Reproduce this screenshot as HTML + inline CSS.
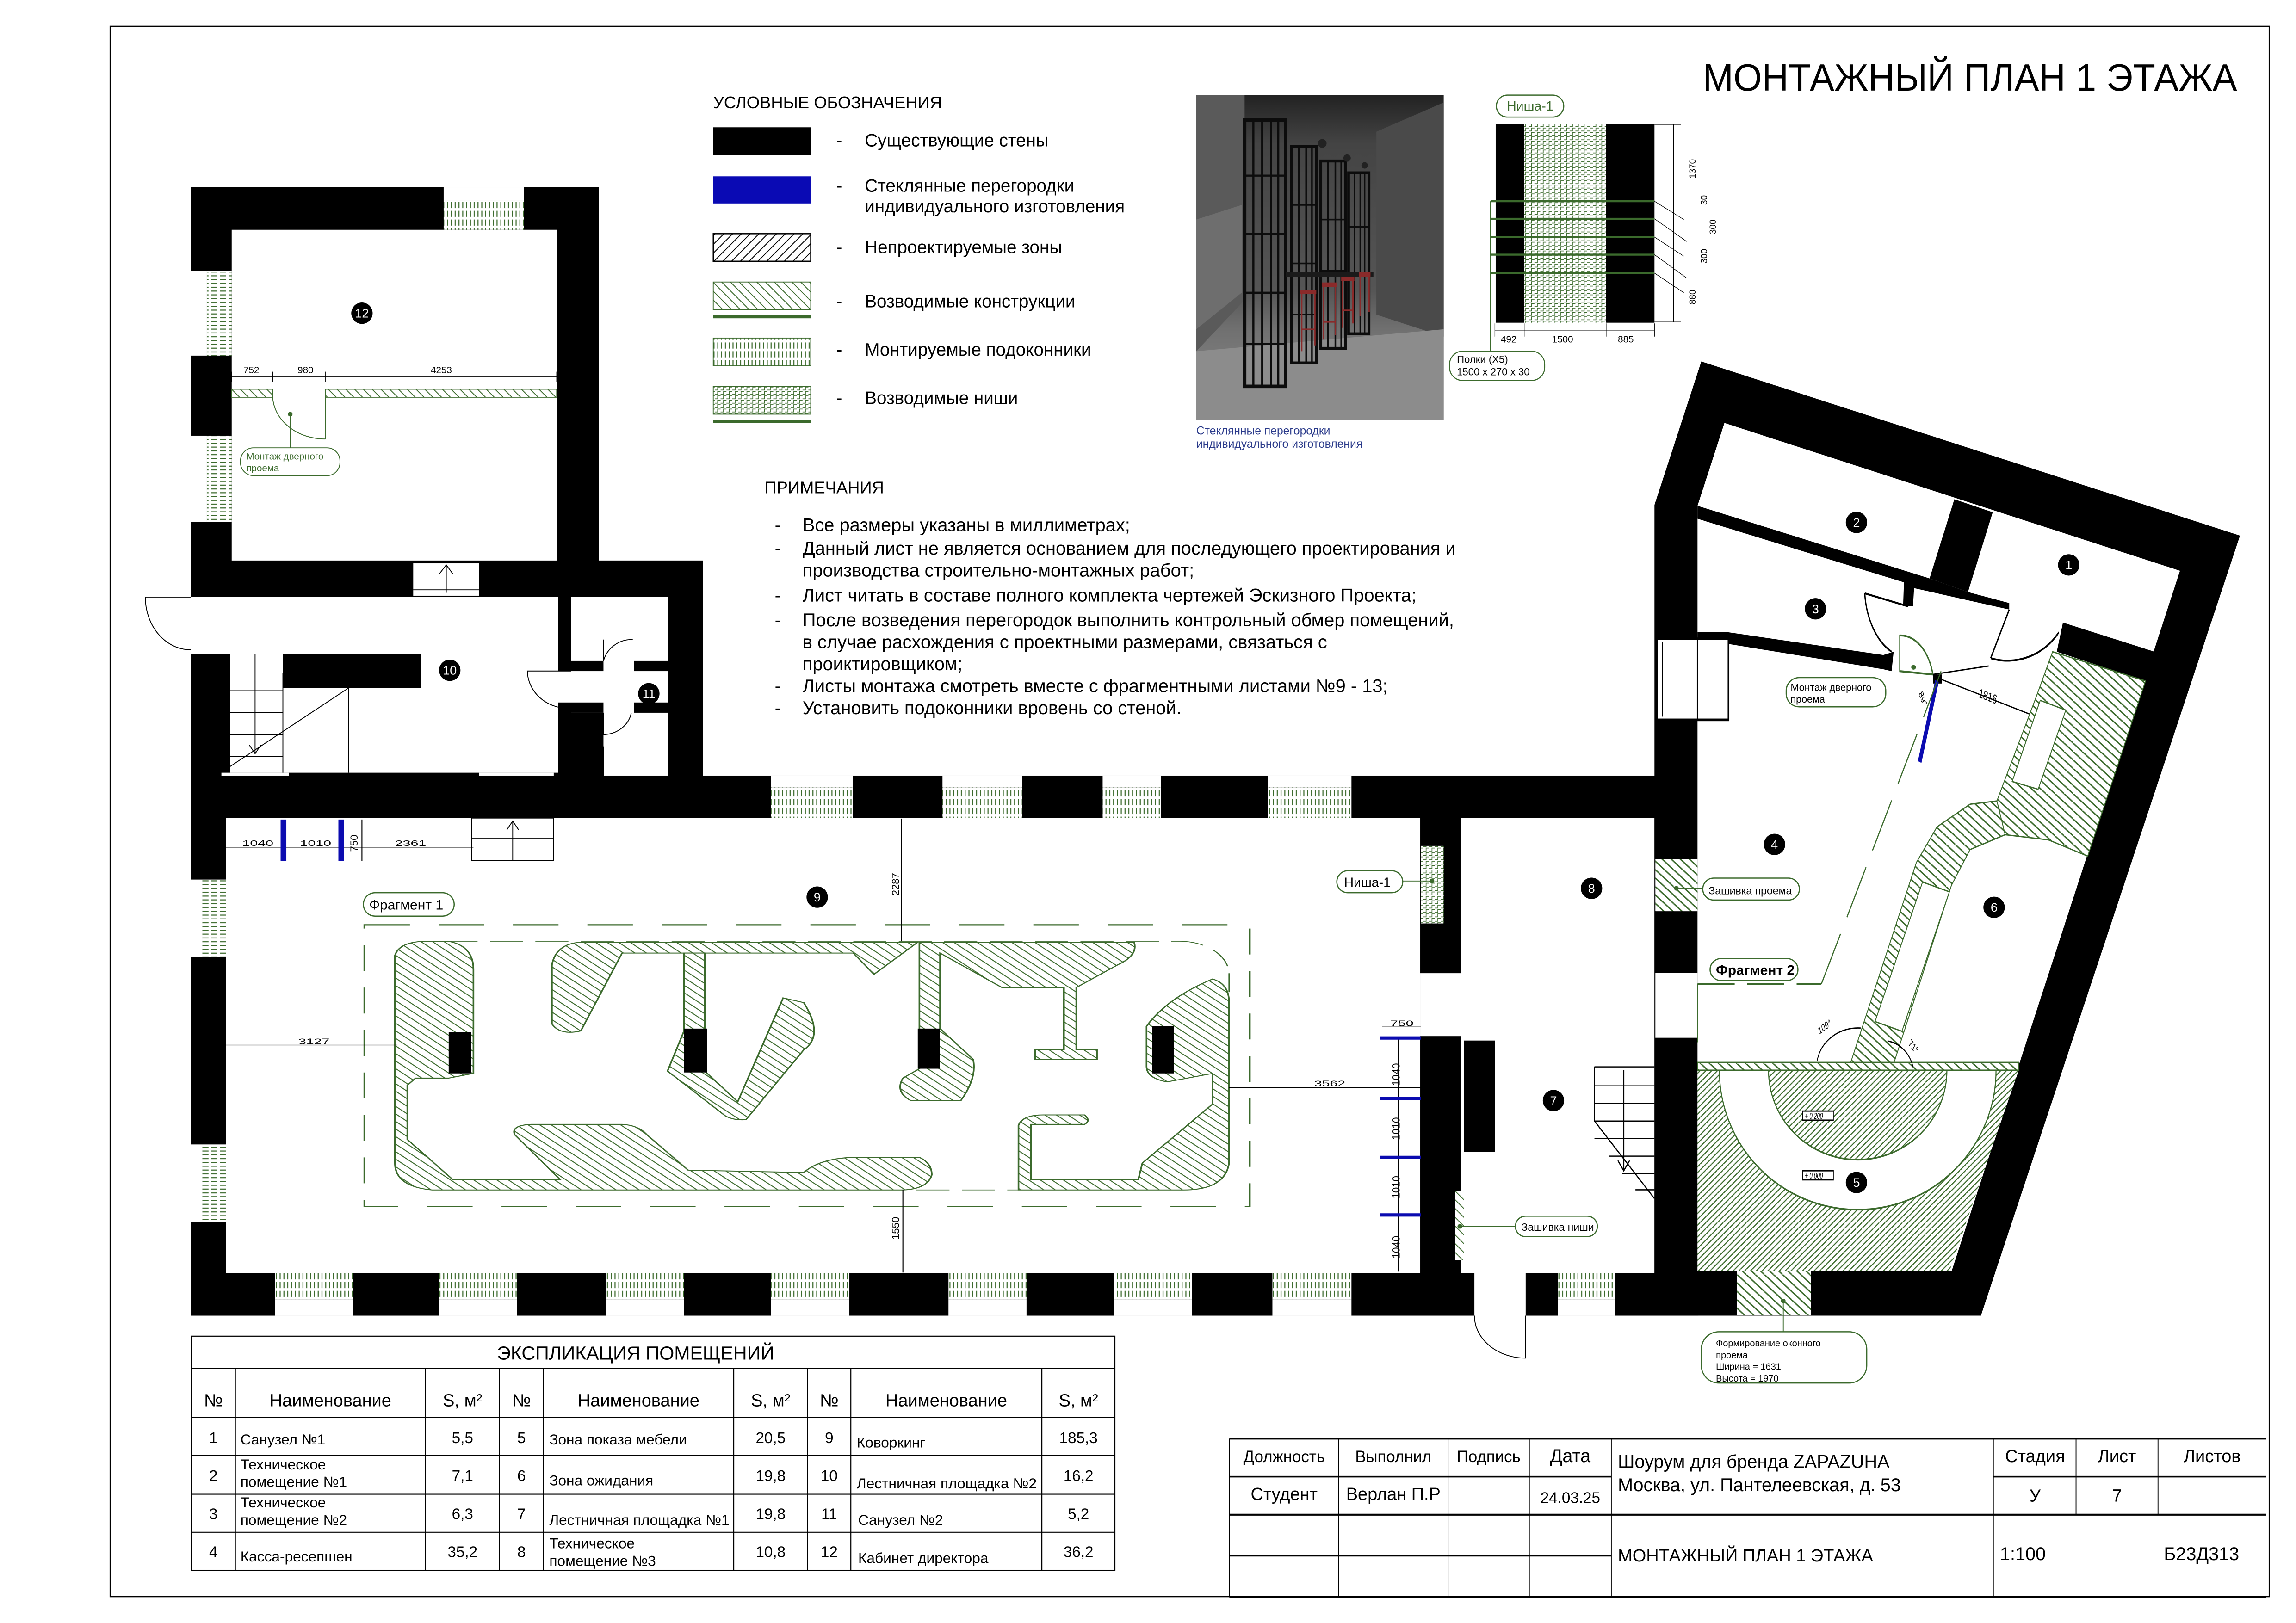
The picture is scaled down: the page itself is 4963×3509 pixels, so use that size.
<!DOCTYPE html>
<html><head><meta charset="utf-8"><style>
html,body{margin:0;padding:0;background:#fff}
svg{display:block}
text{font-family:"Liberation Sans",sans-serif;fill:#000}
.g{fill:#3b6a2c}
</style></head><body>
<svg width="4963" height="3509" viewBox="0 0 1568 1109" xmlns="http://www.w3.org/2000/svg">
<defs>
<pattern id="hg" patternUnits="userSpaceOnUse" width="6" height="6"><rect width="6" height="6" fill="#fff"/><path d="M0,0 L6,6 M-3,3 L0,6 M3,-3 L9,3" stroke="#3b6a2c" stroke-width="0.6"/></pattern>
<pattern id="hz1" patternUnits="userSpaceOnUse" width="14" height="16"><rect width="14" height="16" fill="#fff"/><path d="M0,0 L14,16 M-7,8 L0,16 M7,-8 L21,8" stroke="#3b6a2c" stroke-width="1.6"/></pattern>
<pattern id="hz2" patternUnits="userSpaceOnUse" width="22" height="13"><rect width="22" height="13" fill="#fff"/><path d="M0,0 L22,13 M-11,6.5 L0,13 M11,-6.5 L33,6.5" stroke="#3b6a2c" stroke-width="2.5"/></pattern>
<pattern id="hz5" patternUnits="userSpaceOnUse" width="14" height="9"><rect width="14" height="9" fill="#fff"/><path d="M0,9 L14,0 M-7,4.5 L0,0 M7,13.5 L21,4.5" stroke="#3b6a2c" stroke-width="2"/></pattern>
<pattern id="hb" patternUnits="userSpaceOnUse" width="6" height="6"><rect width="6" height="6" fill="#fff"/><path d="M0,6 L6,0 M-3,3 L3,-3 M3,9 L9,3" stroke="#000" stroke-width="0.6"/></pattern>
<pattern id="sill" patternUnits="userSpaceOnUse" width="2.6" height="6"><rect width="2.6" height="6" fill="#fff"/><path d="M1.3,0 V4.2" stroke="#3b6a2c" stroke-width="0.7"/></pattern>
<pattern id="sillv" patternUnits="userSpaceOnUse" width="6" height="2.6"><rect width="6" height="2.6" fill="#fff"/><path d="M0,1.3 H4.2" stroke="#3b6a2c" stroke-width="0.7"/></pattern>
<pattern id="niche" patternUnits="userSpaceOnUse" width="4" height="3"><rect width="4" height="3" fill="#fff"/><path d="M0,2.5 H2 V0.5 H4" fill="none" stroke="#3b6a2c" stroke-width="0.5"/></pattern>
<linearGradient id="ph" x1="0" y1="0" x2="0" y2="1"><stop offset="0" stop-color="#222"/><stop offset="0.15" stop-color="#444"/><stop offset="0.6" stop-color="#555"/><stop offset="0.72" stop-color="#707070"/><stop offset="1" stop-color="#8e8e8e"/></linearGradient>
</defs>
<rect width="1568" height="1109" fill="#fff"/>
<rect x="75" y="18" width="1475" height="1073" fill="none" stroke="#000" stroke-width="0.8"/>

<text x="1163" y="62" font-size="26" textLength="365" lengthAdjust="spacingAndGlyphs">МОНТАЖНЫЙ ПЛАН 1 ЭТАЖА</text>

<!-- legend -->
<text x="487" y="74" font-size="11.5">УСЛОВНЫЕ ОБОЗНАЧЕНИЯ</text>
<rect x="487" y="87" width="66.6" height="19" fill="#000"/>
<rect x="487" y="120.5" width="66.6" height="18.5" fill="#0a0ab4"/>
<rect x="487" y="159.7" width="66.6" height="18.8" fill="url(#hb)" stroke="#000" stroke-width="0.8"/>
<rect x="487" y="192.7" width="66.6" height="19" fill="url(#hg)" stroke="#3b6a2c" stroke-width="0.6"/>
<rect x="487" y="215.5" width="66.6" height="2" class="g"/>
<rect x="487" y="231" width="66.6" height="19" fill="url(#sill)" stroke="#3b6a2c" stroke-width="0.6"/>
<rect x="487" y="264" width="66.6" height="19" fill="url(#niche)" stroke="#3b6a2c" stroke-width="0.6"/>
<rect x="487" y="287" width="66.6" height="2" class="g"/>
<g font-size="12.2">
<text x="571" y="100">-</text><text x="590.5" y="100">Существующие стены</text>
<text x="571" y="131">-</text><text x="590.5" y="131">Стеклянные перегородки</text><text x="590.5" y="145">индивидуального изготовления</text>
<text x="571" y="173">-</text><text x="590.5" y="173">Непроектируемые зоны</text>
<text x="571" y="210">-</text><text x="590.5" y="210">Возводимые конструкции</text>
<text x="571" y="243">-</text><text x="590.5" y="243">Монтируемые подоконники</text>
<text x="571" y="276">-</text><text x="590.5" y="276">Возводимые ниши</text>
</g>

<!-- photo -->
<rect x="817" y="65" width="169" height="222" fill="url(#ph)"/>
<polygon points="817,65 850,65 850,205 817,240" fill="#5a5a5a"/>
<polygon points="817,150 848,140 848,200 817,225" fill="#6e6e6e"/>
<polygon points="940,90 986,70 986,230 940,215" fill="#4a4a4a"/>
<polygon points="817,240 986,225 986,287 817,287" fill="#8c8c8c"/>
<g fill="none" stroke="#0c0c0c">
<rect x="850" y="82" width="28" height="182" stroke-width="2.4"/>
<path d="M856,82V264M862,82V264M868,82V264M873,82V264M850,120H878M850,160H878M850,200H878M850,235H878" stroke-width="1.4"/>
<rect x="882" y="100" width="17" height="148" stroke-width="2"/>
<path d="M887,100V248M892,100V248M896,100V248M882,140H899M882,180H899M882,215H899" stroke-width="1.1"/>
<rect x="902" y="110" width="17" height="128" stroke-width="2"/>
<path d="M907,110V238M912,110V238M916,110V238M902,150H919M902,185H919" stroke-width="1.1"/>
<rect x="921" y="118" width="14" height="110" stroke-width="1.8"/>
<path d="M925,118V228M929,118V228M932,118V228M921,155H935" stroke-width="1"/>
</g>
<rect x="878" y="186" width="60" height="3" fill="#1a1a1a"/>
<g fill="#8a2a2a"><rect x="888" y="198" width="11" height="3"/><rect x="903" y="193" width="10" height="3"/><rect x="916" y="189" width="9" height="3"/><rect x="928" y="186" width="8" height="3"/></g>
<g stroke="#8a2a2a" stroke-width="1"><path d="M889,201V240M898,201V236M904,196V232M912,196V229M917,192V224M924,192V221M929,189V216M935,189V213M889,225H898M904,220H912M917,212H924"/></g>
<g fill="#222"><circle cx="903" cy="98" r="3"/><circle cx="920" cy="108" r="2.5"/><circle cx="932" cy="113" r="2.2"/></g>
<text x="817" y="297" font-size="7.8" style="fill:#2a3a8a">Стеклянные перегородки</text>
<text x="817" y="306" font-size="7.8" style="fill:#2a3a8a">индивидуального изготовления</text>

<!-- niche-1 drawing -->
<rect x="1022" y="65" width="46" height="15" rx="7.5" fill="none" stroke="#3b6a2c" stroke-width="0.8"/>
<text x="1045" y="75.5" font-size="9" text-anchor="middle" style="fill:#3b6a2c">Ниша-1</text>
<rect x="1021.5" y="85" width="19.5" height="135.5" fill="#000"/>
<rect x="1041" y="85" width="56" height="135.5" fill="url(#niche)"/>
<rect x="1097" y="85" width="33" height="135.5" fill="#000"/>
<g stroke="#3b6a2c" stroke-width="1.4"><path d="M1018,137.5H1130M1018,149.5H1130M1018,162H1130M1018,174H1130M1018,186.6H1130"/></g>
<path d="M1018,137.5V240" stroke="#3b6a2c" stroke-width="0.6"/>
<g stroke="#000" stroke-width="0.4" fill="none"><path d="M1130,85H1148M1130,220H1148M1143,85V220M1021,226H1130M1021,221V230M1041,221V230M1097,221V230M1130,221V230M1130,137.5L1150,150M1130,149.5L1152,165M1130,162L1150,175M1130,174L1152,190M1130,186.6L1150,200"/></g>
<g font-size="6.5"><text x="1025" y="234">492</text><text x="1060" y="234">1500</text><text x="1105" y="234">885</text></g>
<g font-size="6" transform="rotate(-90)"><text x="-122" y="1158">1370</text><text x="-208" y="1158">880</text><text x="-140" y="1166">30</text><text x="-180" y="1166">300</text><text x="-160" y="1172">300</text></g>
<rect x="990" y="240" width="65" height="20" rx="9" fill="none" stroke="#3b6a2c" stroke-width="0.7"/>
<text x="995" y="248" font-size="7">Полки (Х5)</text><text x="995" y="256.5" font-size="7">1500 х 270 х 30</text>

<!-- notes -->
<text x="522" y="337" font-size="11.5">ПРИМЕЧАНИЯ</text>
<g font-size="12.6">
<text x="529" y="363">-</text><text x="548" y="363">Все размеры указаны в миллиметрах;</text>
<text x="529" y="379">-</text><text x="548" y="379">Данный лист не является основанием для последующего проектирования и</text>
<text x="548" y="394">производства строительно-монтажных работ;</text>
<text x="529" y="411">-</text><text x="548" y="411">Лист читать в составе полного комплекта чертежей Эскизного Проекта;</text>
<text x="529" y="428">-</text><text x="548" y="428">После возведения перегородок выполнить контрольный обмер помещений,</text>
<text x="548" y="443">в случае расхождения с проектными размерами, связаться с</text>
<text x="548" y="458">проиктировщиком;</text>
<text x="529" y="473">-</text><text x="548" y="473">Листы монтажа смотреть вместе с фрагментными листами №9 - 13;</text>
<text x="529" y="488">-</text><text x="548" y="488">Установить подоконники вровень со стеной.</text>
</g>

<!-- ===== LEFT BUILDING WALLS ===== -->
<path d="M130,128H409V408H130Z M158,157H380V383H158Z" fill="#000" fill-rule="evenodd"/>
<rect x="380" y="383" width="100" height="25" fill="#000"/>
<rect x="281.8" y="384.7" width="45.6" height="22.6" fill="#fff" stroke="#000" stroke-width="0.5"/>
<path d="M282,403H327M304.6,386V405M300,392L304.6,386L309,392" stroke="#000" stroke-width="0.6" fill="none"/>
<rect x="302.8" y="128" width="55" height="9" fill="#fff"/><rect x="302.8" y="137" width="55" height="20" fill="url(#sill)"/>
<rect x="130" y="185" width="11" height="58" fill="#fff"/><rect x="141" y="185" width="17" height="58" fill="url(#sillv)"/>
<rect x="130" y="297.7" width="11" height="59" fill="#fff"/><rect x="141" y="297.7" width="17" height="59" fill="url(#sillv)"/>
<rect x="158" y="266" width="28" height="5.5" fill="url(#hg)" stroke="#3b6a2c" stroke-width="0.5"/>
<rect x="222" y="266" width="158" height="5.5" fill="url(#hg)" stroke="#3b6a2c" stroke-width="0.5"/>
<path d="M222,271V300M186,271A36,30 0 0 0 222,300" fill="none" stroke="#3b6a2c" stroke-width="0.6"/>
<path d="M158,257.5H380M158,254V261M186,254V261M222,254V261M380,254V261" stroke="#000" stroke-width="0.4"/>
<g font-size="6.5"><text x="166" y="255">752</text><text x="203" y="255">980</text><text x="294" y="255">4253</text></g>
<circle cx="198" cy="283" r="1.6" class="g"/><path d="M198,283V306" stroke="#3b6a2c" stroke-width="0.5"/>
<rect x="164" y="306" width="68" height="19" rx="9" fill="#fff" stroke="#3b6a2c" stroke-width="0.6"/>
<text x="168" y="314" font-size="6.5" style="fill:#3b6a2c">Монтаж дверного</text><text x="168" y="322" font-size="6.5" style="fill:#3b6a2c">проема</text>

<rect x="130" y="408" width="350" height="151" fill="#000"/>
<rect x="130" y="408" width="251" height="39" fill="#fff"/>
<rect x="157" y="447" width="36" height="81" fill="#fff"/>
<rect x="193" y="470" width="188" height="58" fill="#fff"/>
<rect x="287.6" y="447" width="93.4" height="23" fill="#fff"/>
<rect x="151" y="528" width="46" height="9" fill="#fff"/>
<rect x="327" y="528" width="51" height="31" fill="#fff"/>
<g stroke="#000" stroke-width="0.6" fill="none">
<path d="M157,472H193M157,487H193M157,502H193M157,517H193M174,447V515M170,509L174,515L178,509M238,470L152,527M193,460V528M238,470V528"/>
<path d="M130,408H99A31,36 0 0 0 130,444"/>
</g>
<rect x="390" y="408" width="66" height="135" fill="#fff"/>
<rect x="381" y="451.6" width="31" height="7" fill="#000"/><rect x="433" y="451.6" width="23" height="7" fill="#000"/>
<rect x="381" y="480" width="31" height="7" fill="#000"/><rect x="433" y="480" width="23" height="7" fill="#000"/>
<rect x="381" y="487" width="31" height="56" fill="#000"/>
<rect x="381" y="458.5" width="9" height="21.5" fill="#fff"/>
<g stroke="#000" stroke-width="0.6" fill="none"><path d="M412,437V451.6A20,20 0 0 1 432,437M412,487V502A20,18 0 0 0 431,487M390,458.5H360A28,26 0 0 0 388,484"/><path d="M412,510V543"/></g>

<rect x="130" y="530" width="1030" height="369" fill="#000"/>
<rect x="154" y="559" width="816" height="311" fill="#fff"/>
<rect x="322" y="559" width="56" height="29" fill="#fff" stroke="#000" stroke-width="0.6"/>
<path d="M322,573H378M350,561V588M346,567L350,561L354,567" stroke="#000" stroke-width="0.6" fill="none"/>
<rect x="998" y="559" width="132" height="311" fill="#fff"/>
<rect x="970" y="665" width="28" height="43" fill="#fff"/>
<rect x="1000" y="711" width="21" height="76" fill="#000"/>
<rect x="970.5" y="578" width="15.5" height="53" fill="url(#niche)"/>
<rect x="994" y="814" width="6" height="47" fill="url(#hg)"/>
<g fill="url(#sill)">
<rect x="526.5" y="538" width="56" height="21"/><rect x="643.6" y="538" width="54.4" height="21"/><rect x="753" y="538" width="40" height="21"/><rect x="866" y="538" width="57" height="21"/>
</g>
<g fill="#fff"><rect x="526.5" y="530" width="56" height="8"/><rect x="643.6" y="530" width="54.4" height="8"/><rect x="753" y="530" width="40" height="8"/><rect x="866" y="530" width="57" height="8"/></g>
<g fill="url(#sill)">
<rect x="187.7" y="870" width="53.3" height="18"/><rect x="299.5" y="870" width="53.5" height="18"/><rect x="413.6" y="870" width="53.4" height="18"/><rect x="526.5" y="870" width="53.5" height="18"/><rect x="647.7" y="870" width="53.3" height="18"/><rect x="760.6" y="870" width="53.4" height="18"/><rect x="869" y="870" width="54" height="18"/><rect x="1064" y="870" width="39" height="18"/><rect x="1244" y="871" width="59" height="18"/>
</g>
<g fill="#fff">
<rect x="187.7" y="888" width="53.3" height="11"/><rect x="299.5" y="888" width="53.5" height="11"/><rect x="413.6" y="888" width="53.4" height="11"/><rect x="526.5" y="888" width="53.5" height="11"/><rect x="647.7" y="888" width="53.3" height="11"/><rect x="760.6" y="888" width="53.4" height="11"/><rect x="869" y="888" width="54" height="11"/><rect x="1064" y="888" width="39" height="11"/><rect x="1244" y="889" width="59" height="10"/>
</g>
<rect x="130" y="601" width="8" height="53" fill="#fff"/><rect x="138" y="601" width="16" height="53" fill="url(#sillv)"/>
<rect x="130" y="782" width="8" height="53" fill="#fff"/><rect x="138" y="782" width="16" height="53" fill="url(#sillv)"/>
<rect x="1007" y="870" width="35" height="30" fill="#fff"/>
<path d="M1042,899V928A35,29 0 0 1 1007,899" fill="none" stroke="#000" stroke-width="0.6"/>
<g stroke="#000" stroke-width="0.8" fill="none"><path d="M1089,729H1130M1089,729V766L1130,819M1089,742H1130M1089,754H1130M1089,766H1130M1089,778H1130M1099,790H1130M1108,802H1130M1117,813H1130M1109,731V800M1105,793L1109,800L1113,793"/></g>

<!-- ===== RIGHT BUILDING ===== -->
<polygon points="1162,247 1530,366 1353,899 1130,899 1130,345" fill="#000"/>
<polygon points="1177.8,289 1489,390 1333,868.6 1159.4,868.6 1159.4,345.6" fill="#fff"/>
<g transform="matrix(0.28209 0 0 0.44332 1105.8 236.97)">
<polygon points="812,235 905,255 845,378 752,357" fill="#000"/>
<polygon points="190,245 752,357 845,378 945,395 945,405 715,372 700,365 190,265" fill="#000"/>
<polygon points="690,360 715,365 712,400 688,400" fill="#000"/>
<polygon points="1075,425 1297,470 1275,515 1060,470" fill="#000"/>
<polygon points="190,440 265,440 640,475 665,470 660,500 640,497 265,458 190,458" fill="#000"/>
<rect x="92" y="450" width="173" height="125" fill="#fff" stroke="#000" stroke-width="4"/>
<path d="M105,455V570M190,450V575" stroke="#000" stroke-width="3"/>
<rect x="88" y="790" width="102" height="80" fill="url(#hz2)"/>
<rect x="88" y="965" width="102" height="100" fill="#fff"/>
<g fill="none" stroke="#000" stroke-width="3">
<path d="M595,380L700,400M595,380A110,110 0 0 0 660,470"/>
<path d="M945,405L900,480M900,480A150,100 0 0 0 1065,440"/>
</g>
<path d="M680,445A80,80 0 0 1 760,505L680,500Z" fill="#fff" stroke="#3b6a2c" stroke-width="3"/>
<rect x="760" y="505" width="22" height="14" fill="#000"/>
<path d="M770,515L728,640" stroke="#0b0bb0" stroke-width="9"/>
<path d="M770,510L1010,570M895,492L760,505" stroke="#000" stroke-width="2" fill="none"/>
<text x="870" y="540" font-size="20" transform="rotate(14 870 540)">1816</text>
<text x="725" y="535" font-size="16" transform="rotate(60 725 535)">89°</text>
<polygon points="1050,470 1275,515 1135,785 1040,760 935,752 915,700 1010,540" fill="url(#hz2)" stroke="#3b6a2c" stroke-width="2"/>
<polygon points="1020,545 1082,560 1015,682 952,670" fill="#fff" stroke="#3b6a2c" stroke-width="2"/>
<path d="M935,752Q860,745 840,775" fill="none" stroke="#3b6a2c" stroke-width="2"/>
<polygon points="915,700 935,752 850,775 805,830 665,1105 560,1105 720,795 770,740 850,705" fill="url(#hz2)" stroke="#3b6a2c" stroke-width="2"/>
<polygon points="735,825 800,840 685,1055 620,1040" fill="#fff" stroke="#3b6a2c" stroke-width="2"/>
<path d="M490,982L780,500M190,982H490M190,982V1105" fill="none" stroke="#3b6a2c" stroke-width="2.5" stroke-dasharray="90 30"/>
<polygon points="190,1115 968,1115 800,1425 190,1425" fill="url(#hz5)"/>
<path d="M243,1115A335,215 0 0 0 913,1115Z" fill="#fff" stroke="#3b6a2c" stroke-width="2.5"/>
<path d="M362,1115A216,138 0 0 0 794,1115Z" fill="url(#hz5)" stroke="#3b6a2c" stroke-width="2.5"/>
<rect x="190" y="1103" width="778" height="12" fill="url(#hz2)" stroke="#3b6a2c" stroke-width="2"/>
<rect x="445" y="1178" width="74" height="14" fill="#fff" stroke="#000" stroke-width="2"/>
<text x="450" y="1190" font-size="13" font-style="italic">+ 0.200</text>
<rect x="445" y="1270" width="74" height="14" fill="#fff" stroke="#000" stroke-width="2"/>
<text x="450" y="1282" font-size="13" font-style="italic">+ 0.000</text>
<path d="M480,1100A100,60 0 0 1 585,1050M650,1070A75,55 0 0 1 712,1110" fill="none" stroke="#000" stroke-width="2"/>
<text x="485" y="1060" font-size="16" transform="rotate(-25 485 1060)">109°</text>
<text x="700" y="1075" font-size="16" transform="rotate(40 700 1075)">71°</text>
<rect x="285" y="1425" width="180" height="68" fill="url(#hz2)"/>
</g>

<!-- ===== FRAGMENT 1 ===== -->
<g transform="matrix(0.56419 0 0 0.3224 120.06 394.94)">
<rect x="228" y="735" width="1072" height="597" fill="none" stroke="#3b6a2c" stroke-width="2.2" stroke-dasharray="55 35"/>
<rect x="265" y="770" width="1010" height="527" rx="60" ry="70" fill="none" stroke="#3b6a2c" stroke-width="1.6" stroke-dasharray="40 15"/>
<g fill="url(#hz1)" stroke="#3b6a2c" stroke-width="2">
<path d="M300,770L330,770Q360,780 360,830L360,1050L330,1060L290,1060L280,1075L280,1190L335,1275L465,1275L410,1180Q405,1160 430,1158L540,1158Q560,1160 570,1180L620,1255L760,1260Q780,1230 820,1228L900,1228Q915,1240 915,1265Q910,1295 880,1297L310,1297Q265,1290 265,1240L265,800Q270,772 300,770Z"/>
<path d="M490,772L898,772L845,840L820,795L540,795L490,960Q465,970 455,945L455,820Q460,775 490,772Z"/>
<path d="M615,795L640,795L640,1045L615,1045Z"/>
<path d="M595,1045L615,960L640,960L640,1045L680,1110L735,890L760,900Q785,970 760,1000L690,1148Q675,1150 665,1140Z"/>
<path d="M900,772L1160,772Q1165,800 1140,820L1090,868L1090,1000L1115,1000L1115,1020L1040,1020L1040,1000L1075,1000L1075,868L1000,868L925,795L925,955L965,1020Q970,1060 950,1108L890,1108Q870,1090 880,1060L900,1040Z"/>
<path d="M1255,850Q1275,860 1275,900L1275,1240Q1270,1297 1220,1297L1020,1297L1020,1160Q1025,1138 1050,1138L1100,1138Q1108,1150 1100,1158L1035,1158L1035,1275L1165,1275L1170,1240L1255,1115L1255,1050L1200,1068Q1175,1060 1175,1035L1175,950Q1200,890 1255,850Z"/>
</g>
<g fill="#000"><rect x="330" y="963" width="27" height="87"/><rect x="615" y="955" width="28" height="93"/><rect x="898" y="955" width="27" height="85"/><rect x="1182" y="950" width="26" height="100"/></g>
<g stroke="#000" stroke-width="1.2" fill="none">
<path d="M60,990H268M1275,1080H1507M878,510V770M880,1297V1472M60,572H360M130,560V590M200,560V590M225,512V600"/>
<path d="M1460,950H1507M1480,975V1470"/>
</g>
<g stroke="#0b0bb0" stroke-width="7"><path d="M130,512V600M200,512V600"/><path d="M1458,975H1507M1458,1103H1507M1458,1228H1507M1458,1350H1507"/></g>
<g font-size="17"><text x="148" y="988">3127</text><text x="1378" y="1077">3562</text><text x="80" y="568">1040</text><text x="150" y="568">1010</text><text x="265" y="568">2361</text><text x="1470" y="950">750</text></g>
</g>
<g font-size="7">
<text transform="translate(614,612) rotate(-90)">2287</text>
<text transform="translate(614,847) rotate(-90)">1550</text>
<text transform="translate(244,582) rotate(-90)">750</text>
<text transform="translate(956,742) rotate(-90)">1040</text>
<text transform="translate(956,779) rotate(-90)">1010</text>
<text transform="translate(956,819) rotate(-90)">1010</text>
<text transform="translate(956,860) rotate(-90)">1040</text>
</g>

<g fill="#fff" stroke="#3b6a2c" stroke-width="0.8">
<rect x="248" y="610" width="62" height="16" rx="8"/>
<rect x="1168" y="655" width="60" height="15" rx="7.5"/>
<rect x="913" y="595" width="45" height="15" rx="7.5"/>
<rect x="1163" y="600" width="66" height="15" rx="7.5"/>
<rect x="1035" y="831" width="56" height="14" rx="7"/>
<rect x="1220" y="463" width="68" height="20" rx="9"/>
<rect x="1162" y="910" width="113" height="35" rx="12"/>
</g>
<g style="fill:#3b6a2c">
<text x="252" y="621.5" font-size="9.5">Фрагмент 1</text>
<text x="1172" y="666" font-size="9.5" font-weight="bold">Фрагмент 2</text>
<text x="918" y="606" font-size="9">Ниша-1</text>
<text x="1167" y="611" font-size="7.3">Зашивка проема</text>
<text x="1039" y="841" font-size="7.3">Зашивка ниши</text>
<text x="1223" y="472" font-size="6.8">Монтаж дверного</text><text x="1223" y="480" font-size="6.8">проема</text>
<text x="1172" y="920" font-size="6.3">Формирование оконного</text><text x="1172" y="928" font-size="6.3">проема</text><text x="1172" y="936" font-size="6.3">Ширина = 1631</text><text x="1172" y="944" font-size="6.3">Высота = 1970</text>
</g>
<g stroke="#3b6a2c" stroke-width="0.6"><path d="M958,602H978M1145,607H1163M997,838H1035M1218,889V910"/></g>
<g class="g"><circle cx="978" cy="602" r="1.6"/><circle cx="1145" cy="607" r="1.6"/><circle cx="997" cy="838" r="1.6"/><circle cx="1218" cy="889" r="1.6"/><circle cx="1307" cy="456" r="1.6"/></g>

<g>
<circle cx="247" cy="214" r="7.3"/><circle cx="307" cy="458" r="7.3"/><circle cx="443" cy="474" r="7.3"/><circle cx="558" cy="613" r="7.3"/><circle cx="1087" cy="607" r="7.3"/><circle cx="1061" cy="752" r="7.3"/><circle cx="1212" cy="577" r="7.3"/><circle cx="1362" cy="620" r="7.3"/><circle cx="1268" cy="808" r="7.3"/><circle cx="1240" cy="416" r="7.3"/><circle cx="1268" cy="357" r="7.3"/><circle cx="1413" cy="386" r="7.3"/>
</g>
<g font-size="8.5" text-anchor="middle">
<text x="247" y="217" style="fill:#fff">12</text><text x="307" y="461" style="fill:#fff">10</text><text x="443" y="477" style="fill:#fff">11</text><text x="558" y="616" style="fill:#fff">9</text><text x="1087" y="610" style="fill:#fff">8</text><text x="1061" y="755" style="fill:#fff">7</text><text x="1212" y="580" style="fill:#fff">4</text><text x="1362" y="623" style="fill:#fff">6</text><text x="1268" y="811" style="fill:#fff">5</text><text x="1240" y="419" style="fill:#fff">3</text><text x="1268" y="360" style="fill:#fff">2</text><text x="1413" y="389" style="fill:#fff">1</text>
</g>

<!-- ===== EXPLICATION TABLE ===== -->
<g fill="none" stroke="#000" stroke-width="0.7">
<rect x="130.4" y="913" width="631" height="160"/>
<path d="M130.4,935H761.5M130.4,968.4H761.5M130.4,994.6H761.5M130.4,1021H761.5M130.4,1047H761.5"/>
<path d="M160.5,935V1073M290.4,935V1073M341,935V1073M371,935V1073M501,935V1073M551.4,935V1073M581,935V1073M711.5,935V1073"/>
</g>
<text x="434" y="929" font-size="13" text-anchor="middle">ЭКСПЛИКАЦИЯ ПОМЕЩЕНИЙ</text>
<g font-size="12" text-anchor="middle">
<text x="145.5" y="961">№</text><text x="225.5" y="961">Наименование</text><text x="315.7" y="961">S, м²</text>
<text x="356" y="961">№</text><text x="436" y="961">Наименование</text><text x="526.2" y="961">S, м²</text>
<text x="566.2" y="961">№</text><text x="646.2" y="961">Наименование</text><text x="736.5" y="961">S, м²</text>
</g>
<g font-size="10.5" text-anchor="middle">
<text x="145.5" y="986">1</text><text x="145.5" y="1012">2</text><text x="145.5" y="1038">3</text><text x="145.5" y="1064">4</text>
<text x="356" y="986">5</text><text x="356" y="1012">6</text><text x="356" y="1038">7</text><text x="356" y="1064">8</text>
<text x="566.2" y="986">9</text><text x="566.2" y="1012">10</text><text x="566.2" y="1038">11</text><text x="566.2" y="1064">12</text>
<text x="315.7" y="986">5,5</text><text x="315.7" y="1012">7,1</text><text x="315.7" y="1038">6,3</text><text x="315.7" y="1064">35,2</text>
<text x="526.2" y="986">20,5</text><text x="526.2" y="1012">19,8</text><text x="526.2" y="1038">19,8</text><text x="526.2" y="1064">10,8</text>
<text x="736.5" y="986">185,3</text><text x="736.5" y="1012">16,2</text><text x="736.5" y="1038">5,2</text><text x="736.5" y="1064">36,2</text>
</g>
<g font-size="10">
<text x="164" y="987">Санузел №1</text>
<text x="164" y="1004">Техническое</text><text x="164" y="1016">помещение №1</text>
<text x="164" y="1030">Техническое</text><text x="164" y="1042">помещение №2</text>
<text x="164" y="1067">Касса-ресепшен</text>
<text x="375" y="987">Зона показа мебели</text>
<text x="375" y="1015">Зона ожидания</text>
<text x="375" y="1042">Лестничная площадка №1</text>
<text x="375" y="1058">Техническое</text><text x="375" y="1070">помещение №3</text>
<text x="585" y="989">Коворкинг</text>
<text x="585" y="1017">Лестничная площадка №2</text>
<text x="586" y="1042">Санузел №2</text>
<text x="586" y="1068">Кабинет директора</text>
</g>

<!-- ===== TITLE BLOCK ===== -->
<g fill="none" stroke="#000">
<path d="M839.6,983H1548M839.6,1035H1548M839.6,1091H1548" stroke-width="1.3"/>
<path d="M839.6,1009H1100.5M1361.5,1009H1548M839.6,1063H1100.5" stroke-width="1.1"/>
<path d="M839.6,983V1091M914.3,983V1091M989,983V1091M1044.5,983V1091M1100.5,983V1091M1361.5,983V1091M1418,983V1035M1474,983V1035" stroke-width="0.6"/>
</g>
<g font-size="11" text-anchor="middle">
<text x="877" y="999">Должность</text><text x="951.6" y="999">Выполнил</text><text x="1016.7" y="999">Подпись</text><text x="1072.5" y="999" font-size="12.5">Дата</text>
<text x="877" y="1025" font-size="12">Студент</text><text x="951.6" y="1025" font-size="12">Верлан П.Р</text><text x="1072.5" y="1027" font-size="10.5">24.03.25</text>
<text x="1390" y="999" font-size="12">Стадия</text><text x="1446" y="999" font-size="12">Лист</text><text x="1511" y="999" font-size="12">Листов</text>
<text x="1390" y="1026" font-size="12">У</text><text x="1446" y="1026" font-size="12">7</text>
</g>
<text x="1105" y="1003" font-size="12.5">Шоурум для бренда ZAPAZUHA</text>
<text x="1105" y="1019" font-size="12.5">Москва, ул. Пантелеевская, д. 53</text>
<text x="1105" y="1067" font-size="12">МОНТАЖНЫЙ ПЛАН 1 ЭТАЖА</text>
<text x="1366" y="1066" font-size="12.5">1:100</text>
<text x="1478" y="1066" font-size="12.5">Б23Д313</text>
</svg>
</body></html>
